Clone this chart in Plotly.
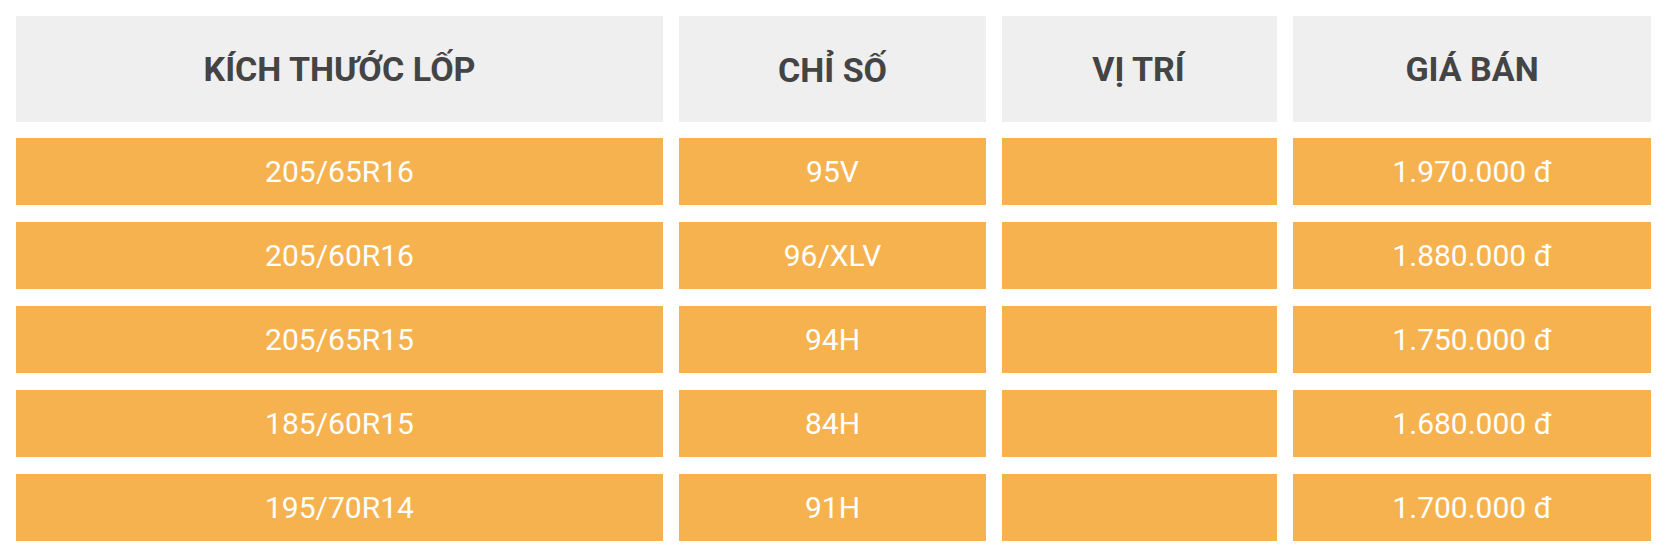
import plotly.graph_objects as go

# ---- data ----
headers = ["KÍCH THƯỚC LỐP", "CHỈ SỐ", "VỊ TRÍ", "GIÁ BÁN"]
tire_sizes = ["205/65R16", "205/60R16", "205/65R15", "185/60R15", "195/70R14"]
load_speed = ["95V", "96/XLV", "94H", "84H", "91H"]
positions = ["", "", "", "", ""]
prices = ["1.970.000 đ", "1.880.000 đ", "1.750.000 đ", "1.680.000 đ", "1.700.000 đ"]

# ---- layout geometry (pixels, page coordinates) ----
PAGE_W, PAGE_H = 1664, 558
BODY_MARGIN = 8  # default browser body margin around the figure div
W, H = PAGE_W - 2 * BODY_MARGIN, PAGE_H - 2 * BODY_MARGIN
col_left = [16, 679, 1002, 1293]
col_width = [647, 307, 275, 358]
header_top, header_h = 16, 106
row_top0, row_pitch, row_h = 138, 84, 67

HEADER_BG = "#efefef"
ROW_BG = "#f6b24e"
HEADER_FG = "#444444"
ROW_FG = "#ffffff"

columns = [tire_sizes, load_speed, positions, prices]

fig = go.Figure()

# header cells
fig.add_trace(go.Bar(
    orientation="h",
    base=[c - BODY_MARGIN for c in col_left],
    x=col_width,
    y=[header_top - BODY_MARGIN + header_h / 2] * len(headers),
    width=header_h,
    text=headers,
    textposition="inside",
    insidetextanchor="middle",
    textangle=0,
    constraintext="none",
    textfont=dict(family="Roboto", size=34, color=HEADER_FG, weight="bold"),
    marker=dict(color=HEADER_BG, line=dict(width=0)),
    hoverinfo="skip",
    showlegend=False,
    cliponaxis=False,
))

# body cells
bx, bbase, by, btext = [], [], [], []
for ci, col in enumerate(columns):
    for ri, val in enumerate(col):
        bx.append(col_width[ci])
        bbase.append(col_left[ci] - BODY_MARGIN)
        by.append(row_top0 - BODY_MARGIN + ri * row_pitch + row_h / 2)
        btext.append(val)

fig.add_trace(go.Bar(
    orientation="h",
    base=bbase,
    x=bx,
    y=by,
    width=row_h,
    text=btext,
    textposition="inside",
    insidetextanchor="middle",
    textangle=0,
    constraintext="none",
    textfont=dict(family="Roboto", size=30, color=ROW_FG),
    marker=dict(color=ROW_BG, line=dict(width=0)),
    hoverinfo="skip",
    showlegend=False,
    cliponaxis=False,
))

fig.update_layout(
    width=W, height=H,
    margin=dict(l=0, r=0, t=0, b=0),
    paper_bgcolor="white", plot_bgcolor="white",
    barmode="overlay",
    xaxis=dict(range=[0, W], visible=False, fixedrange=True),
    yaxis=dict(range=[H, 0], visible=False, fixedrange=True),
)

fig.write_html("out.html", config={"displayModeBar": False})
